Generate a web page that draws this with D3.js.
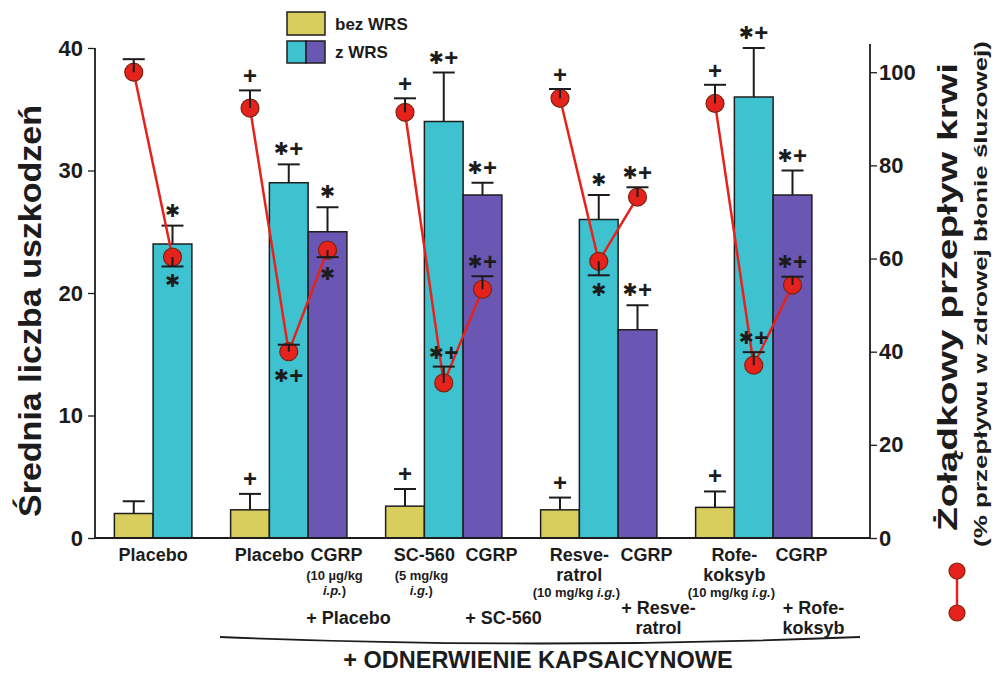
<!DOCTYPE html>
<html>
<head>
<meta charset="utf-8">
<script src="https://cdn.jsdelivr.net/npm/d3@7"></script>
<style>
  body { margin: 0; background: #ffffff; }
  text { font-family: "Liberation Sans", Arial, sans-serif; font-weight: bold; fill: #1c1c1c; }
</style>
</head>
<body>
<svg id="chart" width="994" height="673"></svg>
<script>
// ---------- data ----------
const groupNames = ["Placebo", "Placebo", "SC-560", "Resveratrol", "Rofekoksyb"];
const seriesNames = ["bez WRS", "z WRS", "z WRS + CGRP"];

// mean number of lesions (left axis) with SEM
const lesionBez = [2.0, 2.3, 2.6, 2.3, 2.5];
const lesionBezErr = [1.0, 1.3, 1.4, 1.0, 1.3];
const lesionWrs = [24, 29, 34, 26, 36];
const lesionWrsErr = [1.5, 1.5, 4.0, 2.0, 4.0];
const lesionCgrp = [null, 25, 28, 17, 28];
const lesionCgrpErr = [null, 2.0, 1.0, 2.0, 2.0];
const lesionSigBez = ["", "+", "+", "+", "+"];
const lesionSigWrs = ["*", "*+", "*+", "*", "*+"];
const lesionSigCgrp = [null, "*", "*+", "*+", "*+"];

// gastric blood flow (right axis, % of intact mucosa); a negative error is drawn below the point
const flowBez = [100, 92.3, 91.4, 94.4, 93.3];
const flowBezErr = [2.8, 3.8, 3.0, 2.0, 4.0];
const flowWrs = [60.3, 40.0, 33.3, 59.4, 37.1];
const flowWrsErr = [-2.0, 1.5, 3.5, -3.0, 2.8];
const flowCgrp = [null, 61.8, 53.4, 73.2, 54.3];
const flowCgrpErr = [null, -1.5, 2.8, 2.1, 1.8];
const flowSigBez = ["", "+", "+", "+", "+"];
const flowSigWrs = ["*", "*+", "*+", "*", "*+"];
const flowSigCgrp = [null, "*", "*+", "*+", "*+"];
const flowSigBelowBez = [false, false, false, false, false];
const flowSigBelowWrs = [true, true, false, true, false];
const flowSigBelowCgrp = [null, true, false, false, false];

const leftTicks = [0, 10, 20, 30, 40];
const leftMinorTicks = d3.range(0, 41, 2);
const rightTicks = [0, 20, 40, 60, 80, 100];
const rightMinorTicks = d3.range(0, 106, 5);

// x-axis labels
const drugLabels = [["Placebo"], ["Placebo"], ["SC-560"], ["Resve-", "ratrol"], ["Rofe-", "koksyb"]];
const drugDose = [[], [], ["(5 mg/kg", "_i.g._)"], ["(10 mg/kg _i.g._)"], ["(10 mg/kg _i.g._)"]];
const cgrpLabel = "CGRP";
const cgrpDose = [[], ["(10 µg/kg", "_i.p._)"], [], [], []];
const comboLabels = [[], ["+ Placebo"], ["+ SC-560"], ["+ Resve-", "ratrol"], ["+ Rofe-", "koksyb"]];
const footerLabel = "+ ODNERWIENIE KAPSAICYNOWE";
const leftTitle = "Średnia liczba uszkodzeń";
const rightTitle = "Żołądkowy przepływ krwi";
const rightSubtitle = "(% przepływu w zdrowej błonie śluzowej)";
const legendLabels = ["bez WRS", "z WRS"];

// ---------- layout ----------
const svg = d3.select("#chart");
const baseY = 538, topY = 48;
const axisL = 95, axisR = 870;
const colors = { "bez WRS": "#d8ce5e", "z WRS": "#3fc2d0", "z WRS + CGRP": "#6a57b3" };
const red = "#e5231c";

const yL = d3.scaleLinear().domain([0, 40]).range([baseY, topY]);
const yR = d3.scaleLinear().domain([0, 105.2]).range([baseY, topY]);
// one slot per bar, with an empty slot between groups
const slotX = d3.scaleLinear().domain([-0.5, 19.5]).range([axisL, axisR]);
const slotW = slotX(1) - slotX(0);

const lesion = [lesionBez, lesionWrs, lesionCgrp];
const lesionErr = [lesionBezErr, lesionWrsErr, lesionCgrpErr];
const lesionSig = [lesionSigBez, lesionSigWrs, lesionSigCgrp];
const flow = [flowBez, flowWrs, flowCgrp];
const flowErr = [flowBezErr, flowWrsErr, flowCgrpErr];
const flowSig = [flowSigBez, flowSigWrs, flowSigCgrp];
const flowSigBelow = [flowSigBelowBez, flowSigBelowWrs, flowSigBelowCgrp];

const bars = [];
const groupFirstSlot = [];
let slot = 0;
groupNames.forEach((g, i) => {
  groupFirstSlot.push(slot);
  seriesNames.forEach((s, j) => {
    if (lesion[j][i] == null) return;
    bars.push({
      group: i, series: s, slot: slot,
      value: lesion[j][i], err: lesionErr[j][i], sig: lesionSig[j][i],
      flow: flow[j][i], flowErr: flowErr[j][i], flowSig: flowSig[j][i], flowBelow: flowSigBelow[j][i]
    });
    slot++;
  });
  slot++;
});
const cx = d => slotX(d.slot + 0.5);

// ---------- axes ----------
const gL = svg.append("g").attr("transform", `translate(${axisL},0)`);
gL.call(d3.axisLeft(yL).tickValues(leftMinorTicks).tickSize(4).tickFormat(""));
gL.call(d3.axisLeft(yL).tickValues(leftTicks).tickSize(7).tickPadding(5).tickFormat(d3.format("d")));
const gR = svg.append("g").attr("transform", `translate(${axisR},0)`);
gR.call(d3.axisRight(yR).tickValues(rightMinorTicks).tickSize(4).tickFormat(""));
gR.call(d3.axisRight(yR).tickValues(rightTicks).tickSize(7).tickPadding(2).tickFormat(d3.format("d")));
[gL, gR].forEach(g => {
  g.selectAll(".domain").remove();
  g.selectAll("line").attr("stroke", "#1c1c1c").attr("stroke-width", 1.3);
  g.selectAll("text").attr("font-size", 22).attr("font-family", "Liberation Sans, Arial, sans-serif")
    .attr("font-weight", "bold").attr("fill", "#1c1c1c");
});
svg.append("line").attr("x1", axisL).attr("x2", axisL).attr("y1", topY).attr("y2", baseY)
  .attr("stroke", "#1c1c1c").attr("stroke-width", 1.8);
svg.append("line").attr("x1", axisR).attr("x2", axisR).attr("y1", topY - 4).attr("y2", baseY)
  .attr("stroke", "#1c1c1c").attr("stroke-width", 1.8);

// ---------- bars ----------
svg.append("g").selectAll("rect").data(bars).join("rect")
  .attr("x", d => slotX(d.slot))
  .attr("width", slotW)
  .attr("y", d => yL(d.value))
  .attr("height", d => baseY - yL(d.value))
  .attr("fill", d => colors[d.series])
  .attr("stroke", "#1e1e1e").attr("stroke-width", 1.5);

svg.append("line").attr("x1", axisL).attr("x2", axisR).attr("y1", baseY).attr("y2", baseY)
  .attr("stroke", "#1c1c1c").attr("stroke-width", 2);

// bar error bars
const capHalf = 11;
const eb = svg.append("g").attr("stroke", "#1c1c1c").attr("stroke-width", 2);
bars.forEach(d => {
  const yTopErr = yL(d.value + d.err);
  eb.append("line").attr("x1", cx(d)).attr("x2", cx(d)).attr("y1", yL(d.value)).attr("y2", yTopErr);
  eb.append("line").attr("x1", cx(d) - capHalf).attr("x2", cx(d) + capHalf).attr("y1", yTopErr).attr("y2", yTopErr);
});

// significance marks: asterisk and plus drawn as separate glyphs
function drawSig(g, text, x, y) {
  if (!text) return;
  const parts = text.split("");
  const step = 15;
  const start = x - (parts.length - 1) * step / 2;
  parts.forEach((p, k) => {
    const t = g.append("text").attr("x", start + k * step).attr("text-anchor", "middle");
    if (p === "*") {
      t.text("✱").attr("y", y + 6).attr("font-size", 18)
        .style("font-family", "DejaVu Sans, sans-serif");
    } else {
      t.text("+").attr("y", y + 8).attr("font-size", 24);
    }
  });
}
const sigG = svg.append("g");
bars.forEach(d => drawSig(sigG, d.sig, cx(d), yL(d.value + d.err) - 15));

// ---------- blood flow line ----------
const line = d3.line().x(d => cx(d)).y(d => yR(d.flow));
const lineG = svg.append("g");
groupNames.forEach((g, i) => {
  lineG.append("path").datum(bars.filter(b => b.group === i))
    .attr("d", line).attr("fill", "none").attr("stroke", red).attr("stroke-width", 2.5);
});
const r = 9;
svg.append("g").selectAll("circle").data(bars).join("circle")
  .attr("cx", cx).attr("cy", d => yR(d.flow)).attr("r", r)
  .attr("fill", red).attr("stroke", "#7c2412").attr("stroke-width", 1.2);

const peb = svg.append("g").attr("stroke", "#1c1c1c").attr("stroke-width", 2);
bars.forEach(d => {
  const py = yR(d.flow), ey = yR(d.flow + d.flowErr);
  peb.append("line").attr("x1", cx(d)).attr("x2", cx(d)).attr("y1", py).attr("y2", ey);
  peb.append("line").attr("x1", cx(d) - capHalf).attr("x2", cx(d) + capHalf).attr("y1", ey).attr("y2", ey);
  let sy;
  if (d.flowBelow) sy = Math.max(ey, py + r) + 15;
  else sy = Math.min(ey, py - r) - 14;
  drawSig(sigG.raise(), d.flowSig, cx(d), sy);
});

// ---------- x labels ----------
const lab = svg.append("g").attr("text-anchor", "middle");
function richLine(x, y, str, size) {
  const t = lab.append("text").attr("x", x).attr("y", y).attr("font-size", size);
  str.split("_").forEach((seg, k) => {
    if (!seg) return;
    t.append("tspan").text(seg).attr("font-style", k % 2 ? "italic" : "normal");
  });
}
groupNames.forEach((g, i) => {
  const first = groupFirstSlot[i];
  const xDrug = slotX(first + 1);
  drugLabels[i].forEach((s, k) => richLine(xDrug, 561 + k * 20, s, 18));
  const yy = 561 + (drugLabels[i].length - 1) * 20 + (drugLabels[i].length > 1 ? 16 : 19);
  drugDose[i].forEach((s, k) => richLine(xDrug - 3, yy + k * 15, s, 13));
  if (lesionCgrp[i] != null) {
    const xC = slotX(first + 2.5) + 9;
    richLine(xC, 561, cgrpLabel, 18);
    cgrpDose[i].forEach((s, k) => richLine(xC - 2, 580 + k * 15, s, 13));
    const xCombo = slotX(first + 2.5) + 21;
    const n = comboLabels[i].length;
    comboLabels[i].forEach((s, k) => richLine(xCombo, (n > 1 ? 614 : 624) + k * 20, s, 18));
  }
});

// bracket over the denervated groups
const bx0 = 220, bx1 = 860, byEnd = 637, byMid = 650;
svg.append("path")
  .attr("d", `M${bx0},${byEnd} Q${(bx0 + bx1) / 2},${byMid} ${bx1},${byEnd}`)
  .attr("fill", "none").attr("stroke", "#1c1c1c").attr("stroke-width", 1.8);
lab.append("text").attr("x", 538).attr("y", 668).attr("font-size", 23.5).text(footerLabel);

// ---------- titles ----------
svg.append("text").attr("transform", "translate(41,311) rotate(-90)")
  .attr("text-anchor", "middle").attr("font-size", 32)
  .attr("textLength", 412).attr("lengthAdjust", "spacingAndGlyphs").text(leftTitle);
svg.append("text").attr("transform", "translate(957,297) rotate(-90)")
  .attr("text-anchor", "middle").attr("font-size", 27)
  .attr("textLength", 468).attr("lengthAdjust", "spacingAndGlyphs").text(rightTitle);
svg.append("text").attr("transform", "translate(987,294) rotate(-90)")
  .attr("text-anchor", "middle").attr("font-size", 18)
  .attr("textLength", 506).attr("lengthAdjust", "spacingAndGlyphs").text(rightSubtitle);

// ---------- legends ----------
const lg = svg.append("g");
lg.append("rect").attr("x", 287).attr("y", 12).attr("width", 38).attr("height", 23)
  .attr("fill", colors["bez WRS"]).attr("stroke", "#1e1e1e").attr("stroke-width", 1.5);
lg.append("rect").attr("x", 287).attr("y", 41).attr("width", 19).attr("height", 22)
  .attr("fill", colors["z WRS"]).attr("stroke", "#1e1e1e").attr("stroke-width", 1.5);
lg.append("rect").attr("x", 306).attr("y", 41).attr("width", 19).attr("height", 22)
  .attr("fill", colors["z WRS + CGRP"]).attr("stroke", "#1e1e1e").attr("stroke-width", 1.5);
lg.append("text").attr("x", 335).attr("y", 30).attr("font-size", 17).text(legendLabels[0]);
lg.append("text").attr("x", 335).attr("y", 58).attr("font-size", 17).text(legendLabels[1]);

// blood flow symbol key
const key = svg.append("g");
key.append("line").attr("x1", 957).attr("x2", 957).attr("y1", 571).attr("y2", 613)
  .attr("stroke", red).attr("stroke-width", 2.5);
[571, 613].forEach(y => key.append("circle").attr("cx", 957).attr("cy", y).attr("r", 8)
  .attr("fill", red).attr("stroke", "#7c2412").attr("stroke-width", 1.2));
</script>
</body>
</html>
